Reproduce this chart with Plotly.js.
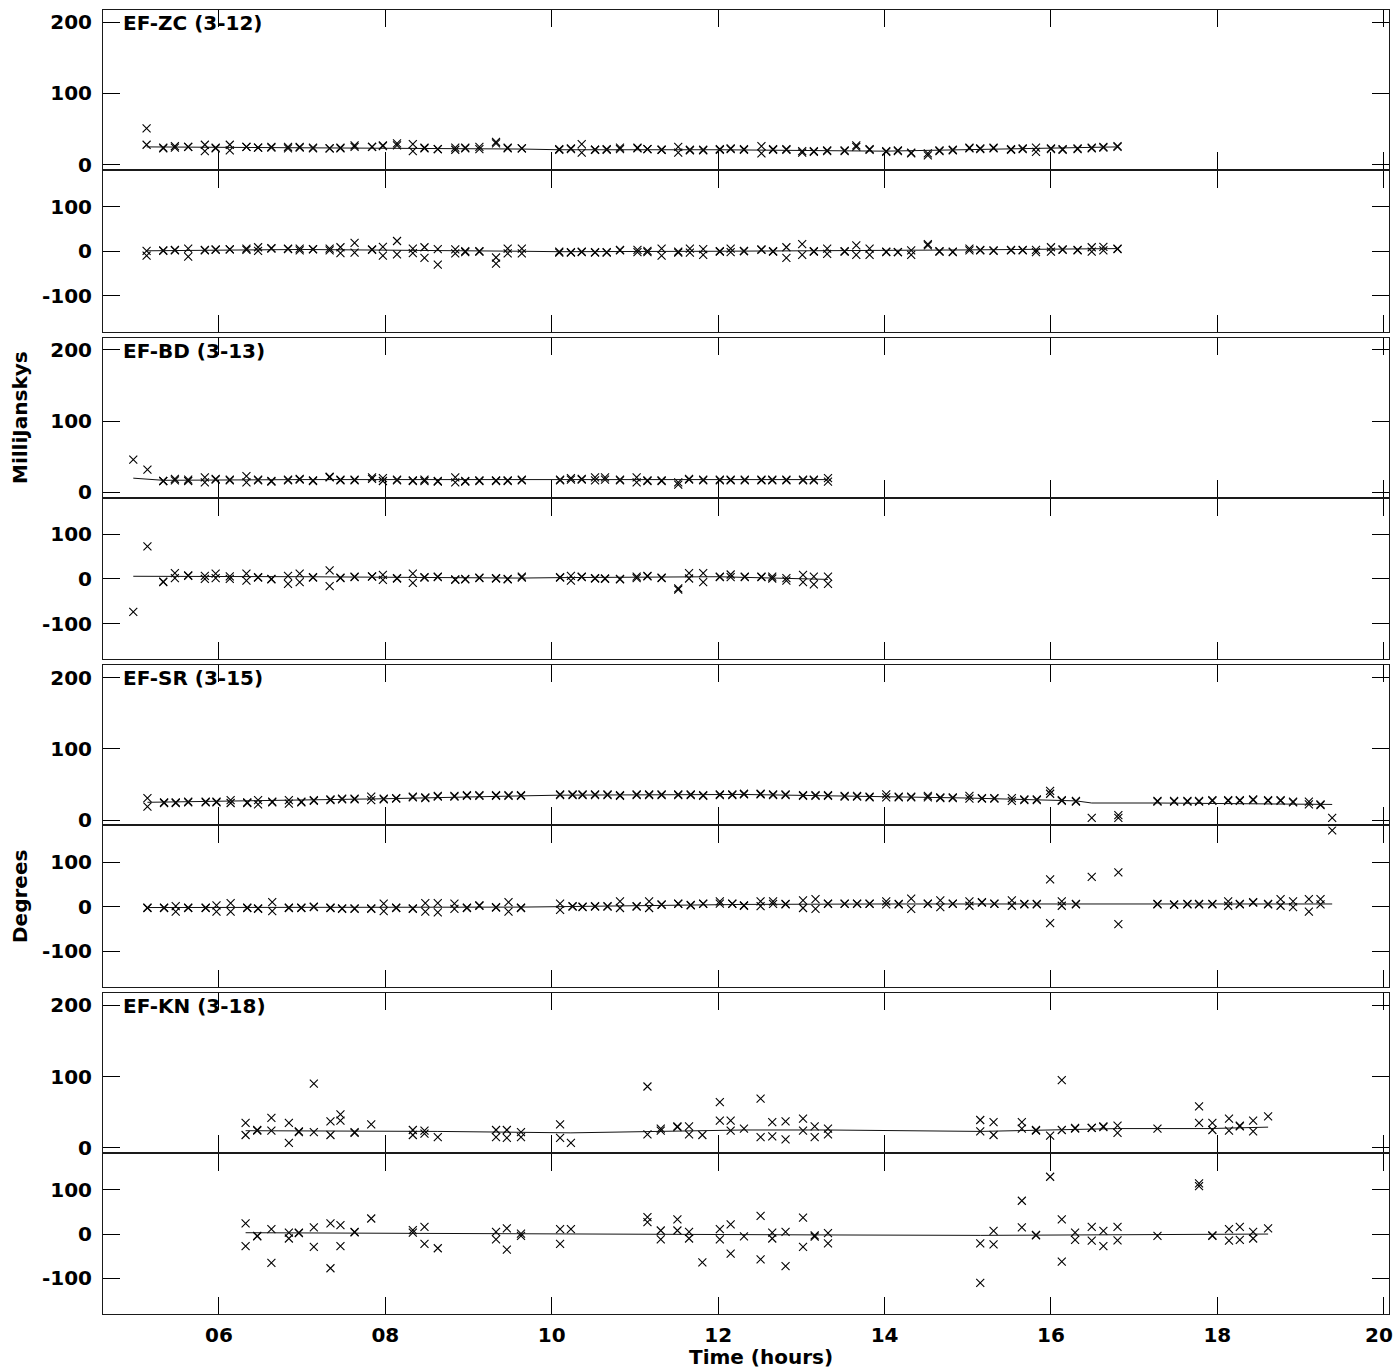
<!DOCTYPE html>
<html>
<head>
<meta charset="utf-8">
<script src="https://cdn.plot.ly/plotly-3.0.1.min.js"></script>
<style>
  html, body { margin: 0; padding: 0; background: #fff; }
  #chart { width: 1395px; height: 1371px; }
</style>
</head>
<body>
<div id="chart"></div>
<script>
// ---------------- DATA ----------------
const baselineNames = ['EF-ZC (3-12)', 'EF-BD (3-13)', 'EF-SR (3-15)', 'EF-KN (3-18)'];
const xTickVals = [6, 8, 10, 12, 14, 16, 18, 20];
const xTickText = ['06', '08', '10', '12', '14', '16', '18', '20'];
const ampTickVals = [0, 100, 200];
const ampTickText = ['0', '100', '200'];
const phTickVals = [-100, 0, 100];
const phTickText = ['-100', '0', '100'];

// EF-ZC
const ZC_time = [5.13,5.33,5.47,5.63,5.83,5.96, 6.13,6.33,6.47,6.63,6.83,6.97, 7.13,7.33,7.46,7.63,7.84,7.97, 8.14,8.33,8.47,8.63,8.84,8.96, 9.13,9.33,9.47,9.64,
  10.09,10.23,10.36,10.52,10.66,10.82, 11.03,11.15,11.32,11.52,11.66,11.82, 12.02,12.15,12.31,12.52,12.66,12.82, 13.01,13.15,13.31,13.52,13.66,13.82, 14.02,14.16,14.32,14.52,14.66,14.82, 15.02,15.15,15.31,15.52,15.66,15.82, 16.00,16.14,16.32,16.49,16.63,16.80];
const ZC_amp1 = [51,24,26,25,28,24, 28,25,24,25,25,25, 24,23,24,27,25,27, 30,29,24,22,21,24, 22,32,24,23,
  22,23,29,21,22,24, 24,22,21,25,20,21, 22,23,22,26,22,22, 17,18,20,20,27,22, 19,20,16,16,20,20, 24,23,23,22,23,24, 22,22,22,24,25,25];
const ZC_amp2 = [28,23,24,25,19,23, 20,25,24,24,23,24, 23,23,23,25,25,26, 27,19,23,22,24,23, 25,30,23,23,
  21,22,17,21,21,22, 23,22,21,17,21,20, 21,22,21,16,21,21, 19,19,19,19,25,21, 18,19,17,13,19,21, 23,22,24,21,22,18, 23,21,23,23,24,26];
const ZC_ph1 = [1,2,3,6,3,4, 4,6,9,7,6,6, 5,6,9,19,4,10, 23,6,9,5,4,0, 0,-14,6,6,
  -1,-2,-2,-3,-2,3, 3,1,6,-1,6,5, -1,6,1,4,-1,9, 16,-1,6,-1,13,6, -2,-2,2,16,-1,-2, 6,2,2,3,2,3, 9,3,3,9,10,5];
const ZC_ph2 = [-10,1,2,-12,2,3, 4,3,1,6,5,2, 4,2,-4,-3,3,-10, -7,-4,-15,-30,-5,-2, -1,-28,-5,-5,
  -3,-3,-1,-2,-3,2, -2,-2,-10,-3,-3,-8, 0,-2,0,3,0,-15, -8,0,-6,0,-8,-8, -1,-2,-8,13,0,-1, 2,3,1,2,3,-2, -1,4,2,-1,2,6];
const ZC_modelTime = [5.13, 7.0, 9.64, 10.09, 12.0, 14.0, 15.0, 16.8];
const ZC_modelAmp = [25, 24, 22, 21, 21, 19, 21, 25];
const ZC_modelPh = [1, 4, 0, -1, 0, 1, 3, 6];

// EF-BD
const BD_time = [4.97,5.14,5.33,5.47,5.63,5.83,5.96, 6.13,6.33,6.47,6.63,6.83,6.97, 7.13,7.33,7.46,7.63,7.84,7.97, 8.14,8.33,8.47,8.63,8.84,8.96, 9.13,9.33,9.47,9.64,
  10.10,10.23,10.36,10.52,10.64,10.82, 11.02,11.15,11.32,11.52,11.65,11.82, 12.02,12.15,12.32,12.52,12.65,12.82, 13.02,13.15,13.32];
const BD_amp1 = [46,32,16,19,18,21,19, 18,23,18,16,18,19, 17,22,18,18,21,20, 18,17,18,16,21,16, 17,17,17,18,
  18,20,19,21,21,18, 21,17,17,14,19,18, 18,18,18,18,18,18, 18,18,20];
const BD_amp2 = [null,null,16,17,16,14,18, 17,14,17,15,17,18, 16,21,17,17,19,16, 17,16,16,15,14,15, 16,16,16,17,
  17,18,18,17,18,17, 14,16,16,11,18,17, 17,17,17,17,17,17, 17,17,15];
const BD_ph1 = [-74,73,-7,13,7,7,12, 6,12,3,-1,7,12, 3,19,2,4,5,9, 1,12,3,5,-2,-1, 3,1,-1,5,
  3,7,5,1,1,-1, 5,7,2,-21,13,13, 4,10,5,4,5,2, 9,5,5];
const BD_ph2 = [null,null,-6,2,8,0,2, 0,-4,4,0,-11,-7, 4,-16,3,5,6,-2, 2,-9,4,4,-1,0, 2,2,0,3,
  4,-4,4,2,0,0, 2,6,3,-24,1,-7, 5,4,4,5,1,-4, -7,-12,-11];
const BD_modelTime = [4.97, 5.33, 7.0, 9.64, 10.10, 12.0, 13.32];
const BD_modelAmp = [20, 17, 18, 18, 18, 18, 18];
const BD_modelPh = [6, 6, 5, 2, 3, 5, -1];

// EF-SR
const SR_time = [5.14,5.34,5.48,5.63,5.84,5.97, 6.14,6.34,6.47,6.64,6.84,6.99, 7.14,7.34,7.48,7.63,7.83,7.98, 8.13,8.33,8.48,8.63,8.83,8.98, 9.13,9.33,9.48,9.63,
  10.10,10.25,10.37,10.52,10.67,10.82, 11.02,11.17,11.32,11.52,11.67,11.82, 12.02,12.17,12.31,12.51,12.66,12.81, 13.02,13.17,13.32,13.52,13.67,13.82, 14.02,14.17,14.32,14.52,14.67,14.82, 15.02,15.17,15.32,15.53,15.68,15.83,
  15.99,16.13,16.30,16.49,16.81, 17.28,17.48,17.64,17.78,17.94, 18.13,18.27,18.43,18.61,18.76,18.91, 19.10,19.24,19.38];
const SR_amp1 = [31,25,25,26,26,26, 28,25,28,26,28,26, 28,29,30,30,33,30, 31,33,32,34,34,35, 35,35,35,35,
  35,35,35,35,35,34, 36,35,35,35,35,34, 35,35,37,37,36,36, 35,35,35,34,34,33, 36,33,33,34,32,32, 34,31,31,31,29,29,
  41,28,27,3,7, 27,27,27,27,28, 28,28,29,28,28,26, 26,22,3];
const SR_amp2 = [19,24,24,25,25,25, 24,24,22,25,23,25, 27,28,29,29,28,29, 30,32,31,33,33,34, 34,34,34,34,
  36,36,36,36,36,35, 35,36,36,36,36,35, 36,36,36,36,35,35, 34,34,34,33,33,32, 32,32,32,32,31,31, 30,30,30,27,28,28,
  37,27,26,null,3, 26,26,26,26,27, 27,27,28,27,27,25, 22,21,null];
const SR_ph1 = [-2,-3,1,-3,-3,3, 8,-3,-5,10,-3,-3, 0,-3,-5,-5,-5,7, -3,-5,8,8,7,-3, 3,-2,10,-3,
  7,0,0,0,0,12, 0,12,5,7,3,7, 12,7,2,12,12,6, 14,17,7,7,7,7, 12,6,18,7,14,7, 12,10,7,14,6,6,
  61,12,6,67,77, 6,5,6,6,6, 12,6,10,6,17,12, 17,17,171];
const SR_ph2 = [-3,-2,-11,-2,-2,-11, -11,-2,-4,-10,-2,-2, -1,-2,-4,-4,-4,-10, -2,-4,-11,-13,-5,-2, 2,-1,-11,-2,
  -7,1,-1,1,1,-3, 1,-3,4,6,4,6, 7,6,3,1,6,5, -3,-5,6,6,6,6, 5,5,-5,6,-1,6, 2,9,6,2,5,5,
  -37,2,5,null,-39, 5,4,5,5,5, 2,5,9,5,2,-1, -11,5,null];
const SR_modelTime = [5.14, 6.5, 8.0, 9.63, 10.10, 12.3, 14.0, 15.0, 16.3, 16.49, 17.28, 19.38];
const SR_modelAmp = [25, 27, 30, 34, 35, 36, 33, 31, 27, 24, 24, 22];
const SR_modelPh = [-2, -2, -1, -1, 0, 5, 6, 6, 6, 6, 6, 6];

// EF-KN
const KN_time = [6.32,6.46,6.63,6.84,6.96, 7.14,7.34,7.46,7.63,7.83, 8.33,8.47,8.63, 9.33,9.46,9.63, 10.10,10.23,
  11.15,11.31,11.51,11.65,11.81, 12.02,12.15,12.31,12.51,12.65,12.81, 13.02,13.16,13.32, 15.15,15.31,15.65,15.82,
  15.99,16.13,16.29,16.49,16.63,16.80, 17.28,17.78,17.94, 18.14,18.27,18.43,18.61];
const KN_amp1 = [35,25,42,35,23, 90,37,47,22,33, 25,24,15, 25,25,22, 33,7, 86,27,30,30,18, 64,38,27,69,36,37, 41,30,27, 39,36,36,25, 17,95,28,28,30,31, 27,58,35, 41,31,38,44];
const KN_amp2 = [18,24,24,7,22, 22,18,38,21,null, 18,20,null, 15,14,15, 14,null, 19,24,29,19,null, 38,24,null,15,16,12, 24,15,19, 23,18,27,24, null,25,27,28,29,21, null,35,25, 24,30,23,null];
const KN_ph1 = [24,-5,11,3,3, 15,24,20,5,35, 9,16,-32, 5,13,1, 11,11, 38,8,33,5,-64, 11,22,-5,41,3,5, 37,-3,2, -21,7,75,-2, 129,33,3,16,7,16, -4,114,-3, 11,16,5,13];
const KN_ph2 = [-27,-4,-65,-10,2, -29,-77,-27,4,null, 3,-22,null, -12,-35,-4, -22,null, 27,-12,8,-10,null, -12,-44,null,-57,-10,-72, -29,-6,-21, -110,-23,15,-3, null,-62,-13,-15,-27,-14, null,108,-4, -15,-13,-10,null];
const KN_modelTime = [6.32, 8.63, 10.23, 11.15, 12.31, 13.32, 15.15, 16.8, 17.9, 18.61];
const KN_modelAmp = [24, 23, 21, 23, 25, 25, 23, 27, 27, 29];
const KN_modelPh = [3, 1, -1, -1, -2, -2, -3, -2, -1, 0];

// ---------------- BUILD ----------------
const sets = [
  {t: ZC_time, a1: ZC_amp1, a2: ZC_amp2, p1: ZC_ph1, p2: ZC_ph2, mt: ZC_modelTime, ma: ZC_modelAmp, mp: ZC_modelPh},
  {t: BD_time, a1: BD_amp1, a2: BD_amp2, p1: BD_ph1, p2: BD_ph2, mt: BD_modelTime, ma: BD_modelAmp, mp: BD_modelPh},
  {t: SR_time, a1: SR_amp1, a2: SR_amp2, p1: SR_ph1, p2: SR_ph2, mt: SR_modelTime, ma: SR_modelAmp, mp: SR_modelPh},
  {t: KN_time, a1: KN_amp1, a2: KN_amp2, p1: KN_ph1, p2: KN_ph2, mt: KN_modelTime, ma: KN_modelAmp, mp: KN_modelPh}
];

const W = 1395, Hh = 1371;
const mL = 103, mR = 6, mT = 10, mB = 57;
const plotH = Hh - mT - mB;           // 1304
const plotBottomPx = Hh - mB;         // 1314
const fy = px => Math.max(0, Math.min(1, (plotBottomPx - px) / plotH));
const pitch = 327.7;

const FONT = {family: 'DejaVu Sans', size: 20, color: '#000', weight: 'bold'};
const XR = [4.606, 20.063];
const AMP_R = [-6, 217];
const PH_R = [-180, 180];

// the last x tick label sits at the page edge; it is drawn as an annotation nudged inward
const lastIdx = xTickVals.length - 1;
const axisTickText = xTickText.map((t, i) => i === lastIdx ? '' : t);

const marker = {symbol: 'x-thin', size: 8, color: '#000', line: {width: 1.1, color: '#000'}};
const traces = [];
const layout = {
  width: W, height: Hh,
  margin: {l: mL, r: mR, t: mT, b: mB, pad: 0},
  paper_bgcolor: '#fff', plot_bgcolor: '#fff',
  showlegend: false,
  font: FONT,
  annotations: []
};

function axName(n, letter) { return n === 1 ? letter : letter + n; }
function axKey(n, letter) { return n === 1 ? letter + 'axis' : letter + 'axis' + n; }

sets.forEach((s, k) => {
  const top = mT + k * pitch;
  const ampDom = [fy(top + 159), fy(top)];
  const phDom = [fy(top + 321.5), fy(top + 161)];
  const nA = 2 * k + 1, nP = 2 * k + 2;

  [[nA, ampDom, AMP_R, ampTickVals, ampTickText], [nP, phDom, PH_R, phTickVals, phTickText]].forEach(([n, dom, rng, tv, tt]) => {
    layout[axKey(n, 'x')] = {
      domain: [0, 1], range: XR, anchor: axName(n, 'y'),
      showline: true, linecolor: '#1a1a1a', linewidth: 1, mirror: 'ticks',
      ticks: 'inside', ticklen: 17, tickwidth: 1, tickcolor: '#000',
      tickmode: 'array', tickvals: xTickVals, ticktext: axisTickText,
      showticklabels: n === 8, tickfont: FONT, ticklabelstandoff: 3,
      showgrid: false, zeroline: false, fixedrange: true
    };
    layout[axKey(n, 'y')] = {
      domain: dom, range: rng, anchor: axName(n, 'x'),
      showline: true, linecolor: '#1a1a1a', linewidth: 1, mirror: 'ticks',
      ticks: 'inside', ticklen: 17, tickwidth: 1, tickcolor: '#000',
      tickmode: 'array', tickvals: tv, ticktext: tt,
      tickfont: FONT, ticklabelstandoff: 6, ticklabeloverflow: 'allow',
      showgrid: false, zeroline: false, fixedrange: true
    };
  });

  const xa = axName(nA, 'x'), ya = axName(nA, 'y');
  const xp = axName(nP, 'x'), yp = axName(nP, 'y');
  traces.push({x: s.t.concat(s.t), y: s.a1.concat(s.a2), xaxis: xa, yaxis: ya, mode: 'markers', type: 'scatter', marker: marker, hoverinfo: 'skip'});
  traces.push({x: s.mt, y: s.ma, xaxis: xa, yaxis: ya, mode: 'lines', type: 'scatter', line: {color: '#111', width: 1}, hoverinfo: 'skip'});
  traces.push({x: s.t.concat(s.t), y: s.p1.concat(s.p2), xaxis: xp, yaxis: yp, mode: 'markers', type: 'scatter', marker: marker, hoverinfo: 'skip'});
  traces.push({x: s.mt, y: s.mp, xaxis: xp, yaxis: yp, mode: 'lines', type: 'scatter', line: {color: '#111', width: 1}, hoverinfo: 'skip'});

  layout.annotations.push({
    xref: 'paper', yref: ya + ' domain', x: (121 - mL) / (W - mL - mR), y: 1,
    xanchor: 'left', yanchor: 'top', yshift: 1,
    text: baselineNames[k], showarrow: false, font: FONT
  });
});

const plotW = W - mL - mR;
layout.annotations.push({
  xref: 'x8', yref: 'paper', x: xTickVals[lastIdx], y: (plotBottomPx - 1335) / plotH,
  xanchor: 'center', yanchor: 'middle', xshift: -5,
  text: xTickText[lastIdx], showarrow: false, font: FONT
});
layout.annotations.push({
  xref: 'paper', yref: 'paper', x: (20 - mL) / plotW, y: (plotBottomPx - 418) / plotH,
  xanchor: 'center', yanchor: 'middle', textangle: -90,
  text: 'MilliJanskys', showarrow: false, font: FONT
});
layout.annotations.push({
  xref: 'paper', yref: 'paper', x: (20 - mL) / plotW, y: (plotBottomPx - 897) / plotH,
  xanchor: 'center', yanchor: 'middle', textangle: -90,
  text: 'Degrees', showarrow: false, font: FONT
});
layout.annotations.push({
  xref: 'paper', yref: 'paper', x: (761 - mL) / plotW, y: (plotBottomPx - 1357) / plotH,
  xanchor: 'center', yanchor: 'middle',
  text: 'Time (hours)', showarrow: false, font: FONT
});

Plotly.newPlot('chart', traces, layout, {staticPlot: true, displayModeBar: false});
</script>
</body>
</html>
